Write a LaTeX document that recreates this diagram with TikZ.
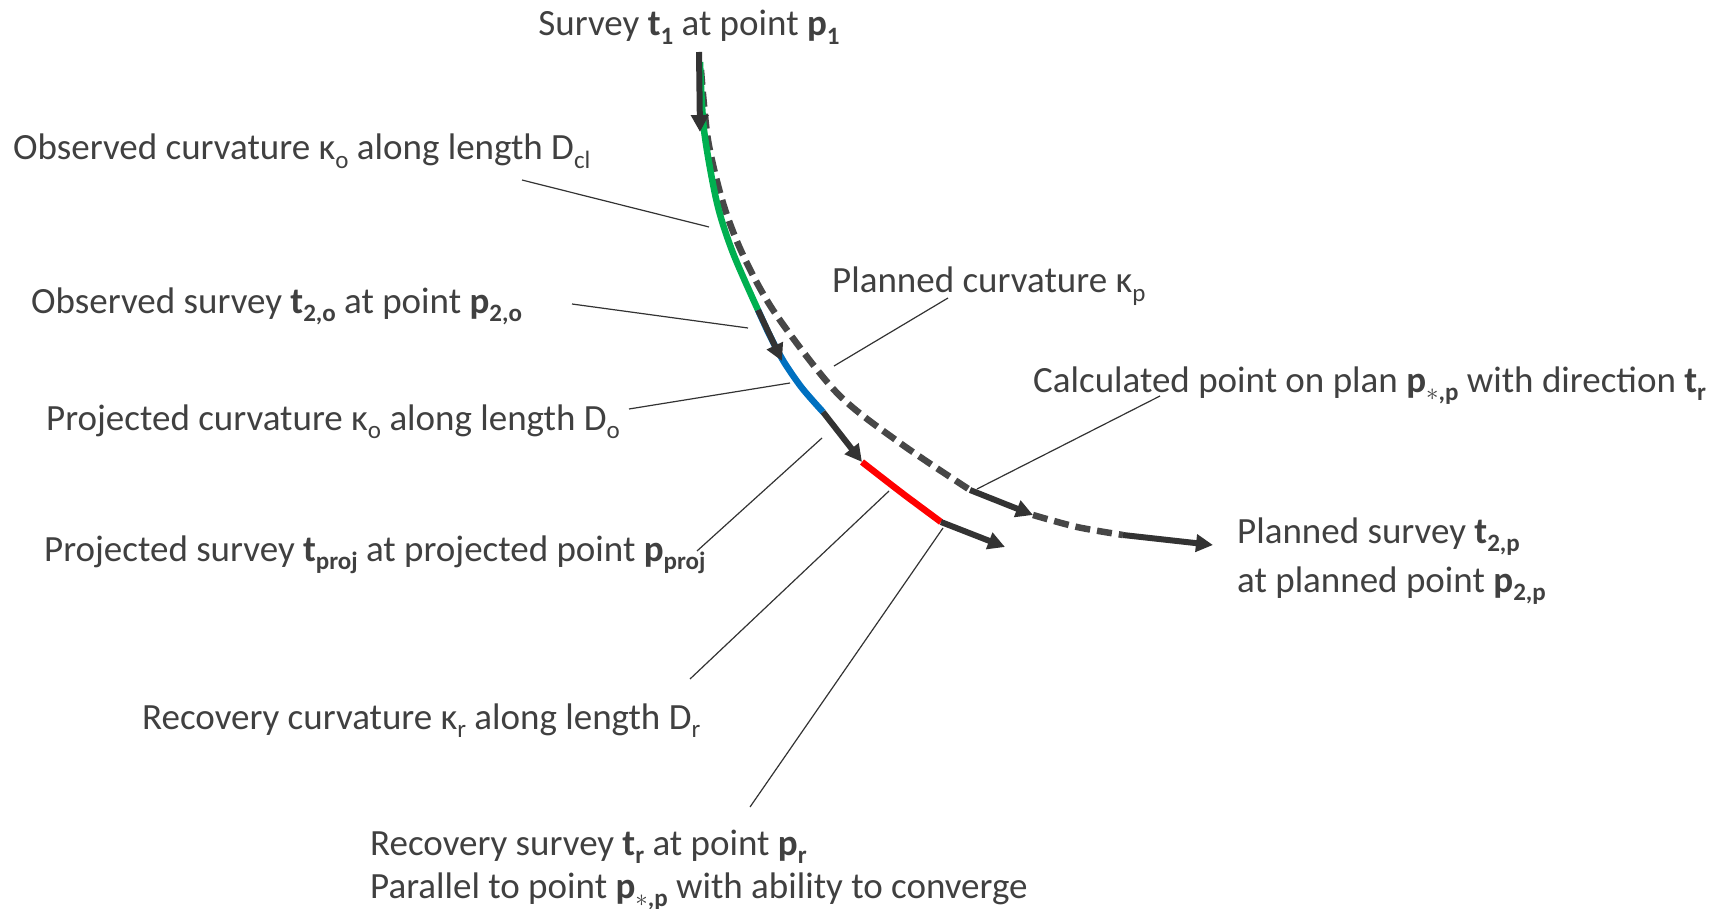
\documentclass[tikz,border=0pt]{standalone}
\usepackage{fontspec}
\setmainfont{Carlito}
\usetikzlibrary{arrows.meta}
\definecolor{txt}{HTML}{404040}
\definecolor{arr}{HTML}{333333}
\definecolor{dsh}{HTML}{474747}
\definecolor{cgreen}{HTML}{00B050}
\definecolor{cblue}{HTML}{0070C0}
\definecolor{cred}{HTML}{FF0000}
\newcommand{\sbs}[1]{\raisebox{-0.22em}{\fontsize{25}{25}\selectfont #1}}
\newcommand{\astp}{\sbs{$\ast$,p}}
\begin{document}
\begin{tikzpicture}[x=1pt,y=-1pt,
  lbl/.style={anchor=base west, inner sep=0pt, text=txt, font=\fontsize{37}{44}\selectfont},
  leader/.style={draw=arr, line width=1.2pt},
  curve/.style={line width=6.5pt},
  vec/.style={draw=arr, line width=6pt, -{Triangle[length=17pt,width=17pt]}},
  plan/.style={draw=dsh, line width=6.5pt, dash pattern=on 15pt off 7pt}]
\useasboundingbox (0,0) rectangle (1716,909);

% coordinates of the survey vectors
\coordinate (v1s) at (699,52);   \coordinate (v1e) at (700,132);
\coordinate (v2s) at (758,310);  \coordinate (v2e) at (782,361);
\coordinate (v3s) at (823,412);  \coordinate (v3e) at (862,462);
\coordinate (v4s) at (941,522);  \coordinate (v4e) at (1005,547);
\coordinate (v5s) at (970,490);  \coordinate (v5e) at (1033,515);
\coordinate (v6s) at (1123,535); \coordinate (v6e) at (1213,545);

% planned (dashed) well path
\draw[plan] plot[smooth] coordinates {(701,70) (708,140) (723,203) (743,255) (775,313) (837,393) (900,443) (v5s)};
\draw[plan] plot[smooth] coordinates {(v5e) (1077,527) (v6s)};

% observed / projected / recovery path
\draw[curve, cgreen] plot[smooth] coordinates {(700,62) (704,130) (717,203) (733,253) (v2s)};
\draw[curve, cblue] plot[smooth] coordinates {(v2s) (770,336) (784,362) (802,388) (v3s)};
\draw[curve, cred] plot[smooth] coordinates {(v3e) (902,493) (v4s)};

% vectors
\draw[vec] (v1s) -- (v1e);
\draw[vec] (v2s) -- (v2e);
\draw[vec] (v3s) -- (v3e);
\draw[vec] (v4s) -- (v4e);
\draw[vec] (v5s) -- (v5e);
\draw[vec] (v6s) -- (v6e);

% labels
\node[lbl, anchor=base] (lt1) at (689,36) {Survey \textbf{t\sbs{1}} at point \textbf{p\sbs{1}}};
\node[lbl] (loc) at (13,160) {Observed curvature κ\sbs{o} along length D\sbs{cl}};
\node[lbl] (los) at (31,313) {Observed survey \textbf{t\sbs{2,o}} at point \textbf{p\sbs{2,o}}};
\node[lbl] (lpc) at (832,293) {Planned curvature κ\sbs{p}};
\node[lbl] (ljc) at (46,430) {Projected curvature κ\sbs{o} along length D\sbs{o}};
\node[lbl] (lcp) at (1033,392) {Calculated point on plan \textbf{p\astp} with direction \textbf{t\sbs{r}}};
\node[lbl] (ljs) at (44,561) {Projected survey \textbf{t\sbs{proj}} at projected point \textbf{p\sbs{proj}}};
\node[lbl] (lps1) at (1237,543) {Planned survey \textbf{t\sbs{2,p}}};
\node[lbl] (lps2) at (1237,592) {at planned point \textbf{p\sbs{2,p}}};
\node[lbl] (lrc) at (142,729) {Recovery curvature κ\sbs{r} along length D\sbs{r}};
\node[lbl] (lrs1) at (370,855) {Recovery survey \textbf{t\sbs{r}} at point \textbf{p\sbs{r}}};
\node[lbl] (lrs2) at (370,898) {Parallel to point \textbf{p\astp} with ability to converge};

% leader lines
\coordinate (a1) at (522,180); \coordinate (b1) at (709,227);
\coordinate (a2) at (572,304); \coordinate (b2) at (748,328);
\coordinate (a3) at (948,298); \coordinate (b3) at (834,366);
\coordinate (a4) at (629,409); \coordinate (b4) at (790,383);
\coordinate (a5) at (1160,396); \coordinate (b5) at (977,489);
\coordinate (a6) at (697,551); \coordinate (b6) at (822,438);
\coordinate (a7) at (690,679); \coordinate (b7) at (889,491);
\coordinate (a8) at (750,807); \coordinate (b8) at (943,528);
\foreach \i in {1,...,8} \draw[leader] (a\i) -- (b\i);
\end{tikzpicture}
\end{document}
